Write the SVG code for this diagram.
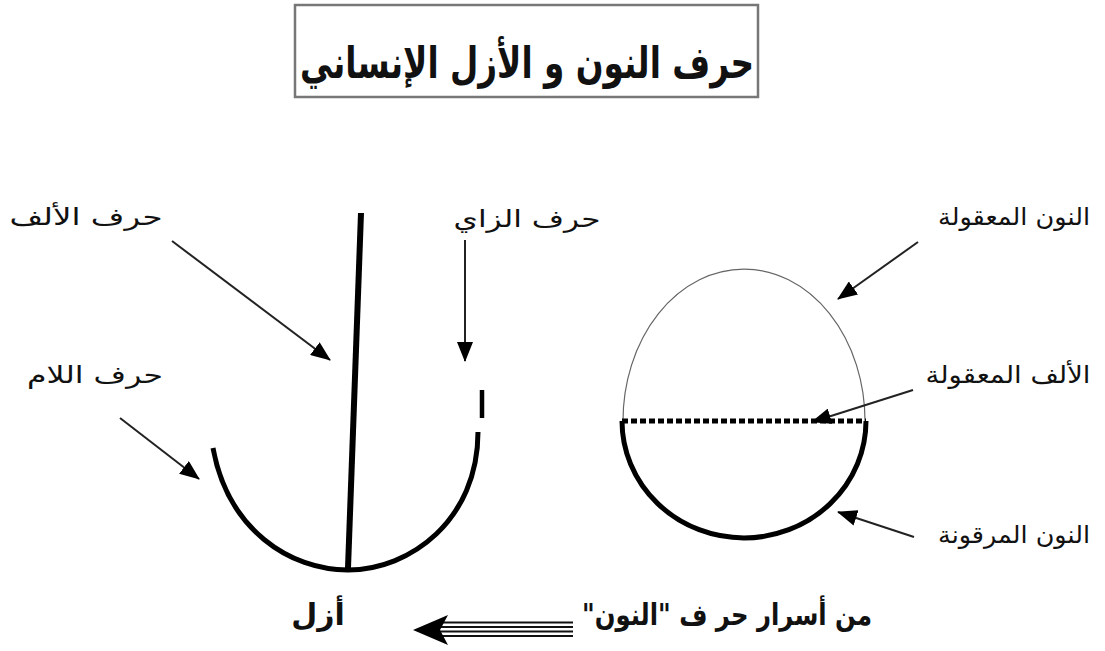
<svg xmlns="http://www.w3.org/2000/svg" width="1105" height="651" viewBox="0 0 1105 651">
<defs>
<style>
.t{font-family:"DejaVu Sans","Noto Sans",sans-serif;fill:#111;text-anchor:middle;direction:rtl;unicode-bidi:embed}
.lbl{font-size:24px}
.big{font-size:30px;font-weight:bold}
.con{stroke:#222;stroke-width:2;fill:none}
.thick{stroke:#000;fill:none;stroke-linecap:butt}
</style>
<marker id="ah" markerUnits="userSpaceOnUse" markerWidth="20" markerHeight="16" refX="19" refY="8" orient="auto">
<path d="M0,0 L20,8 L0,16 Z" fill="#000"/>
</marker>
</defs>
<rect width="1105" height="651" fill="#fff"/>

<g id="title">
<rect x="295" y="5" width="463" height="92" fill="#fff" stroke="#777" stroke-width="2.5"/>
<text class="t" direction="rtl" x="527" y="78" font-size="44" font-weight="bold" textLength="454" lengthAdjust="spacingAndGlyphs">حرف النون و الأزل الإنساني</text>
</g>

<g id="azal-figure">
<line class="thick" x1="361" y1="213" x2="348" y2="568" stroke-width="6"/>
<path class="thick" d="M213,448 C228,530 290,570 348,570 C410,570 478,520 478,432" stroke-width="5"/>
<line class="thick" x1="482" y1="390" x2="482" y2="418" stroke-width="4.5"/>
</g>

<g id="nun-figure">
<path d="M623,421 A121 152 0 0 1 865,421" fill="none" stroke="#666" stroke-width="1.2"/>
<path class="thick" d="M622,421 A122 117 0 0 0 866,421" stroke-width="5"/>
<line x1="622" y1="421" x2="866" y2="421" stroke="#000" stroke-width="5" stroke-dasharray="6 3"/>
</g>

<g id="label-alif">
<text class="t lbl" direction="rtl" x="86" y="225" textLength="153" lengthAdjust="spacingAndGlyphs">حرف الألف</text>
</g>
<g id="label-lam">
<text class="t lbl" direction="rtl" x="95" y="383" textLength="136" lengthAdjust="spacingAndGlyphs">حرف اللام</text>
</g>
<g id="label-zay">
<text class="t lbl" direction="rtl" x="527" y="227" textLength="147" lengthAdjust="spacingAndGlyphs">حرف الزاي</text>
</g>
<g id="label-nun-maqula">
<text class="t lbl" direction="rtl" x="1014" y="225" textLength="152" lengthAdjust="spacingAndGlyphs">النون المعقولة</text>
</g>
<g id="label-alif-maqula">
<text class="t lbl" direction="rtl" x="1008" y="383" textLength="165" lengthAdjust="spacingAndGlyphs">الألف المعقولة</text>
</g>
<g id="label-nun-marquna">
<text class="t lbl" direction="rtl" x="1014" y="543" textLength="152" lengthAdjust="spacingAndGlyphs">النون المرقونة</text>
</g>
<g id="label-azal">
<text class="t big" direction="rtl" x="318" y="625">أزل</text>
</g>
<g id="label-asrar">
<text class="t big" direction="rtl" x="727" y="625" textLength="290" lengthAdjust="spacingAndGlyphs">من أسرار حر ف "النون"</text>
</g>

<g id="connectors">
<line class="con" x1="172" y1="241" x2="330" y2="360" marker-end="url(#ah)"/>
<line class="con" x1="120" y1="418" x2="199" y2="479" marker-end="url(#ah)"/>
<line class="con" x1="465" y1="240" x2="465" y2="361" marker-end="url(#ah)"/>
<line class="con" x1="918" y1="242" x2="838" y2="299" marker-end="url(#ah)"/>
<line class="con" x1="913" y1="390" x2="812" y2="422" marker-end="url(#ah)"/>
<line class="con" x1="914" y1="537" x2="838" y2="512" marker-end="url(#ah)"/>
<g id="triple-arrow">
<line x1="440" y1="622.5" x2="573" y2="622.5" stroke="#111" stroke-width="2"/>
<line x1="440" y1="627" x2="573" y2="627" stroke="#111" stroke-width="2"/>
<line x1="440" y1="631.5" x2="573" y2="631.5" stroke="#111" stroke-width="2"/>
<line x1="440" y1="636" x2="573" y2="636" stroke="#111" stroke-width="2"/>
<path d="M413,630 L448,615 L440,630 L448,645 Z" fill="#000"/>
</g>
</g>
</svg>
